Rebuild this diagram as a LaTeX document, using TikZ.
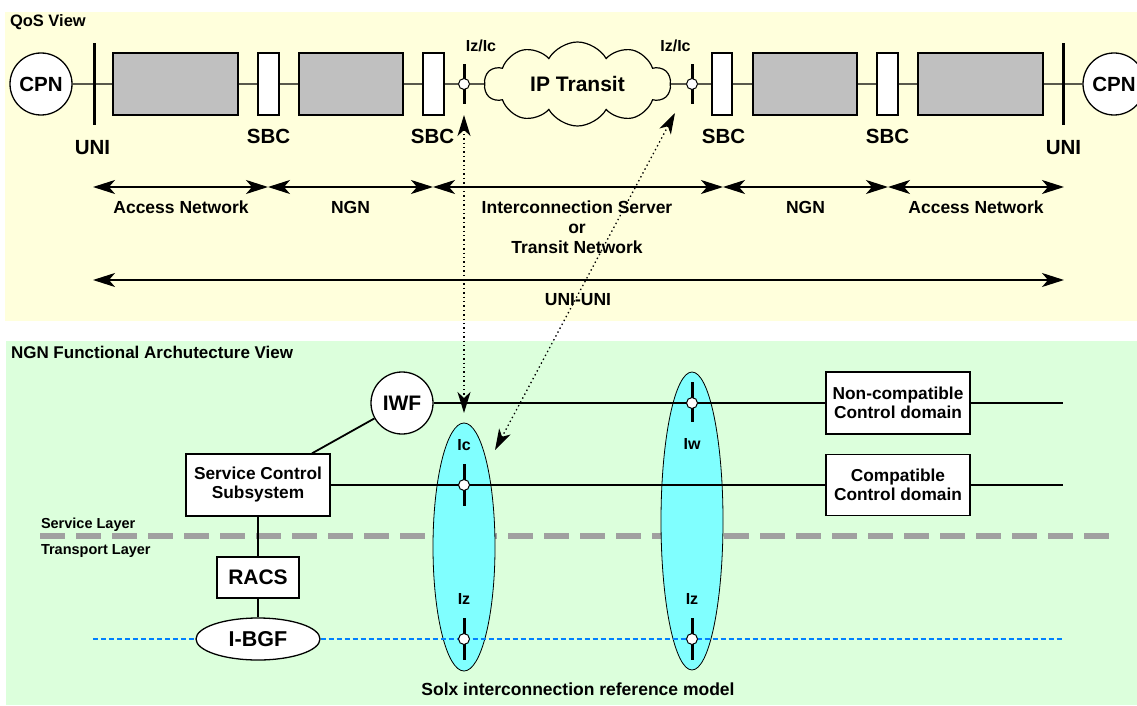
\documentclass[tikz,border=0pt]{standalone}
\usepackage{fontspec}
\setmainfont{Liberation Sans}
\usetikzlibrary{shapes.geometric,shapes.symbols,arrows.meta,calc}
\definecolor{qosbg}{RGB}{255,255,220}
\definecolor{ngnbg}{RGB}{220,255,220}
\definecolor{grayfill}{RGB}{192,192,192}
\definecolor{cyanfill}{RGB}{128,255,255}
\definecolor{bluedash}{RGB}{0,128,255}
\definecolor{layergray}{RGB}{160,160,160}
\newcommand\fsz[2]{\fontsize{#1}{#2}\selectfont\bfseries}
\begin{document}
\begin{tikzpicture}[x=1pt,y=-1pt,
  txt/.style={inner sep=0, outer sep=0},
  graybox/.style={draw=black, line width=1.3pt, fill=grayfill, minimum width=#1, minimum height=62pt, inner sep=0},
  sbcbox/.style={draw=black, line width=1.3pt, fill=white, minimum width=#1, minimum height=62pt, inner sep=0},
  cpnnode/.style={circle, draw, line width=1.3pt, fill=white, minimum size=62pt, inner sep=0, font=\fsz{20.5}{23}},
  barnode/.style={rectangle, fill=black, minimum width=3pt, minimum height=#1, inner sep=0},
  port/.style={circle, draw, fill=white, line width=1pt, minimum size=11pt, inner sep=0},
  topline/.style={line width=1.3pt},
  lowline/.style={line width=1.8pt},
  dimarrow/.style={line width=1.8pt, arrows={Stealth[length=22pt,width=14pt,inset=6pt]-Stealth[length=22pt,width=14pt,inset=6pt]}},
  dotarrow/.style={line width=1.3pt, dash pattern=on 1.4pt off 3pt, arrows={Stealth[length=21pt,width=13pt,inset=6pt]-Stealth[length=21pt,width=13pt,inset=6pt]}},
  whitebox/.style={draw=black, line width=1.3pt, fill=white, minimum width=#1, inner sep=0, align=center, font=\fsz{17.3}{19}},
  ifell/.style={ellipse, draw=black, line width=0.8pt, fill=cyanfill, minimum width=62pt, minimum height=#1, inner sep=0}
]
\useasboundingbox (0,0) rectangle (1137,706);
\clip (0,0) rectangle (1137,706);
% panels
\fill[qosbg] (5,12) rectangle (1140,321);
\fill[ngnbg] (6,341) rectangle (1140,705);
\node[txt, anchor=base west, font=\fsz{16.5}{19}] (qostitle) at (10,27) {QoS View};
\node[txt, anchor=base west, font=\fsz{17}{19}] (ngntitle) at (11,358) {NGN Functional Archutecture View};

% ---------- QoS view ----------
\node[cpnnode] (cpnL) at (41,84) {CPN};
\node[cpnnode] (cpnR) at (1114,84) {CPN};
\node[barnode=82pt] (uniL) at (94,84) {};
\node[barnode=82pt] (uniR) at (1063,84) {};
\node[graybox=125pt] (g1) at (175.5,84) {};
\node[sbcbox=21pt] (s1) at (268.5,84) {};
\node[graybox=104pt] (g2) at (351,84) {};
\node[sbcbox=21pt] (s2) at (433.5,84) {};
\node[barnode=40pt] (bL) at (464,84) {};
\node[port] (pL) at (464,84) {};
\node[cloud, draw, fill=qosbg, line width=1.2pt, cloud puffs=10, cloud puff arc=120, cloud ignores aspect, minimum width=186pt, minimum height=84pt, inner sep=0, font=\fsz{21}{24}] (cloud) at (577.5,84) {IP Transit};
\node[barnode=40pt] (bR) at (692,84) {};
\node[port] (pR) at (692,84) {};
\node[sbcbox=20pt] (s3) at (722,84) {};
\node[graybox=104pt] (g3) at (805,84) {};
\node[sbcbox=21pt] (s4) at (887.5,84) {};
\node[graybox=125pt] (g4) at (980.5,84) {};
\draw[topline] (cpnL) -- (g1) (g1) -- (s1) (s1) -- (g2) (g2) -- (s2) (s2) -- (pL) (pL) -- (cloud)
  (cloud) -- (pR) (pR) -- (s3) (s3) -- (g3) (g3) -- (s4) (s4) -- (g4) (g4) -- (cpnR);

\node[txt, anchor=base, font=\fsz{20.5}{23}] (uniLl) at (92.5,154) {UNI};
\node[txt, anchor=base, font=\fsz{20.5}{23}] (uniRl) at (1063.5,154) {UNI};
\node[txt, anchor=base, font=\fsz{20.5}{23}] (s1l) at (268.5,143) {SBC};
\node[txt, anchor=base, font=\fsz{20.5}{23}] (s2l) at (432.5,143) {SBC};
\node[txt, anchor=base, font=\fsz{20.5}{23}] (s3l) at (723.5,143) {SBC};
\node[txt, anchor=base, font=\fsz{20.5}{23}] (s4l) at (887.5,143) {SBC};
\node[txt, anchor=base, font=\fsz{16}{18}] (izl) at (481,52) {Iz/Ic};
\node[txt, anchor=base, font=\fsz{16}{18}] (izr) at (675.5,52) {Iz/Ic};

% dimension arrows
\coordinate (d0) at (93,187);
\coordinate (d1) at (268,187);
\coordinate (d2) at (433,187);
\coordinate (d3) at (723,187);
\coordinate (d4) at (888,187);
\coordinate (d5) at (1064,187);
\draw[dimarrow] (d0) -- (d1);
\draw[dimarrow] (d1) -- (d2);
\draw[dimarrow] (d2) -- (d3);
\draw[dimarrow] (d3) -- (d4);
\draw[dimarrow] (d4) -- (d5);
\coordinate (u0) at (93,280);
\coordinate (u1) at (1064,280);
\draw[dimarrow] (u0) -- (u1);
\node[txt, anchor=base, font=\fsz{17.5}{20}] (l1) at (181,213) {Access Network};
\node[txt, anchor=base, font=\fsz{17.5}{20}] (l2) at (350.5,213) {NGN};
\node[txt, anchor=base, font=\fsz{17.5}{20}] (l3a) at (577,213) {Interconnection Server};
\node[txt, anchor=base, font=\fsz{17.5}{20}] (l3b) at (577,233) {or};
\node[txt, anchor=base, font=\fsz{17.5}{20}] (l3c) at (577,253) {Transit Network};
\node[txt, anchor=base, font=\fsz{17.5}{20}] (l4) at (805.5,213) {NGN};
\node[txt, anchor=base, font=\fsz{17.5}{20}] (l5) at (976,213) {Access Network};
\node[txt, anchor=base, font=\fsz{17.5}{20}] (l6) at (578,305) {UNI-UNI};

% ---------- NGN functional view ----------
\coordinate (layL) at (40,536);
\coordinate (layR) at (1115,536);
\draw[layergray, line width=6pt, dash pattern=on 25pt off 11pt] (layL) -- (layR);
\node[txt, anchor=base west, font=\fsz{14.5}{17}] (svl) at (41,528) {Service Layer};
\node[txt, anchor=base west, font=\fsz{14.5}{17}] (trl) at (41,554) {Transport Layer};

\node[ifell=248pt] (e1) at (464,547) {};
\node[ifell=298pt] (e2) at (692,521) {};

\node[circle, draw, line width=1.3pt, fill=white, minimum size=62pt, inner sep=0, font=\fsz{21}{24}] (iwf) at (402,403) {IWF};
\node[whitebox=144pt, minimum height=62pt] (scs) at (258,485) {Service Control\\Subsystem};
\node[whitebox=82pt, minimum height=41pt, font=\fsz{21}{24}] (racs) at (258,577.5) {RACS};
\node[ellipse, draw, line width=1.3pt, fill=white, minimum width=124pt, minimum height=42pt, inner sep=0, font=\fsz{21.5}{24}] (ibgf) at (258,639) {I-BGF};
\node[whitebox=144pt, minimum height=62pt] (nc) at (898,403) {Non-compatible\\Control domain};
\node[whitebox=144pt, minimum height=61pt] (cc) at (898,485) {Compatible\\Control domain};

\coordinate (ncEnd) at (1063,403);
\coordinate (ccEnd) at (1063,485);
\coordinate (blueL) at (93,639);
\coordinate (blueR) at (1063,639);
\draw[lowline] (iwf) -- (nc) (nc) -- (ncEnd);
\draw[lowline] (scs) -- (cc) (cc) -- (ccEnd);
\draw[lowline] ($(scs.north)+(54,0)$) -- (iwf);
\draw[lowline] (scs) -- (racs) (racs) -- (ibgf);
\draw[bluedash, line width=1.5pt, dash pattern=on 5pt off 3pt] (blueL) -- (ibgf) (ibgf) -- (blueR);

\node[barnode=42pt] (icbar) at (464,485) {};
\node[port] (icp) at (464,485) {};
\node[barnode=40pt] (iwbar) at (692,402) {};
\node[port] (iwp) at (692,403) {};
\node[barnode=42pt] (iz1bar) at (464,639) {};
\node[port] (iz1p) at (464,639) {};
\node[barnode=42pt] (iz2bar) at (692,639) {};
\node[port] (iz2p) at (692,639) {};
\node[txt, font=\fsz{16}{18}] (icl) at (464,445) {Ic};
\node[txt, font=\fsz{16}{18}] (iwl) at (692,444) {Iw};
\node[txt, font=\fsz{16}{18}] (iz1l) at (464,599) {Iz};
\node[txt, font=\fsz{16}{18}] (iz2l) at (692,599) {Iz};
\node[txt, anchor=base, font=\fsz{17.5}{20}] (solx) at (578,695) {Solx interconnection reference model};

% dotted arrows between views
\coordinate (a1t) at (464,115);
\coordinate (a1b) at (464,413);
\coordinate (a2t) at (675,113);
\coordinate (a2b) at (495,450);
\draw[dotarrow] (a1t) -- (a1b);
\draw[dotarrow] (a2t) -- (a2b);
\end{tikzpicture}
\end{document}
